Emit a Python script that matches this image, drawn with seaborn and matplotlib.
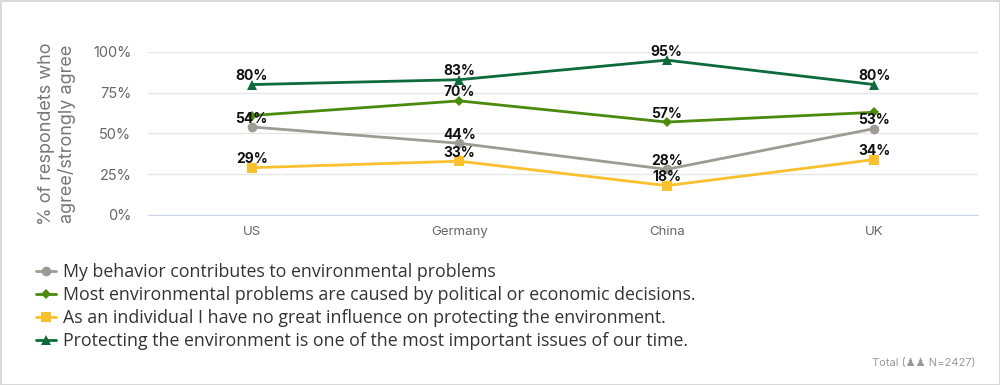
import pandas as pd
import matplotlib.pyplot as plt
import seaborn as sns

countries = ["US", "Germany", "China", "UK"]
behavior = [54, 44, 28, 53]
political = [61, 70, 57, 63]
no_influence = [29, 33, 18, 34]
important = [80, 83, 95, 80]

series_names = [
    "My behavior contributes to environmental problems",
    "Most environmental problems are caused by political or economic decisions.",
    "As an individual I have no great influence on protecting the environment.",
    "Protecting the environment is one of the most important issues of our time.",
]
series_values = [behavior, political, no_influence, important]
colors = ["#9d9b93", "#4a8a0c", "#fbc02d", "#0d6a3a"]
markers = ["o", "D", "s", "^"]
marker_sizes = [7, 5, 7, 7]
# which points carry a data label (some hidden in the original because they overlap)
show_label = [[True, True, True, True],
              [False, True, True, False],
              [True, True, True, True],
              [True, True, True, True]]

sns.set_style("white")
plt.rcParams['font.family'] = ['Inter', 'DejaVu Sans']

fig = plt.figure(figsize=(10, 3.85), dpi=100)
fig.patch.set_edgecolor("#d9d9d9")
fig.patch.set_linewidth(2)
ax = fig.add_axes([0.148, 0.4416, 0.83, 0.4234])

for name, vals, c, m, ms in zip(series_names, series_values, colors, markers, marker_sizes):
    df = pd.DataFrame({"x": range(len(countries)), "y": vals})
    sns.lineplot(data=df, x="x", y="y", color=c, marker=m, markersize=ms,
                 markeredgewidth=0, linewidth=2, ax=ax, label=name)

for vals, flags in zip(series_values, show_label):
    for i, (v, f) in enumerate(zip(vals, flags)):
        if f:
            ax.annotate(f"{v}%", (i, v), xytext=(0, 1), textcoords="offset points",
                        ha="center", va="bottom", fontsize=10, fontweight="bold",
                        color="#111111")

ax.set_xlim(-0.5, 3.5)
ax.set_ylim(0, 100)
ax.set_yticks([0, 25, 50, 75, 100])
ax.set_yticklabels(["0%", "25%", "50%", "75%", "100%"])
ax.set_xticks(range(len(countries)))
ax.set_xticklabels(countries)
ax.set_xticks([-0.5, 0.5, 1.5, 2.5, 3.5], minor=True)
ax.tick_params(axis="y", length=0, labelsize=10.5, labelcolor="#666666", pad=12)
ax.tick_params(axis="x", which="major", length=0, labelsize=9.5, labelcolor="#666666", pad=8)
ax.tick_params(axis="x", which="minor", length=9, color="#ccd6eb", width=1)
ax.yaxis.grid(True, color="#e6e6e6", linewidth=1)
ax.set_axisbelow(True)
for s in ["top", "right", "left"]:
    ax.spines[s].set_visible(False)
ax.spines["bottom"].set_color("#ccd6eb")
ax.set_xlabel("")
ax.set_ylabel("% of respondets who\nagree/strongly agree", fontsize=13,
              color="#777777", labelpad=12, linespacing=1.2)

handles, labels = ax.get_legend_handles_labels()
ax.get_legend().remove()
fig.legend(handles, labels, loc="upper left", bbox_to_anchor=(0.036, 0.316),
           frameon=False, prop={"family": "Open Sans", "size": 12.8},
           labelcolor="#333333", handlelength=1.1, handletextpad=0.42,
           labelspacing=0.28, borderaxespad=0, borderpad=0)

fig.text(0.975, 0.058, "Total (\u265f\u265f N=2427)", ha="right", va="center",
         fontsize=8, color="#999999", family=["Inter", "DejaVu Sans"])

fig.savefig("out.png", dpi=100, edgecolor=fig.get_edgecolor())
